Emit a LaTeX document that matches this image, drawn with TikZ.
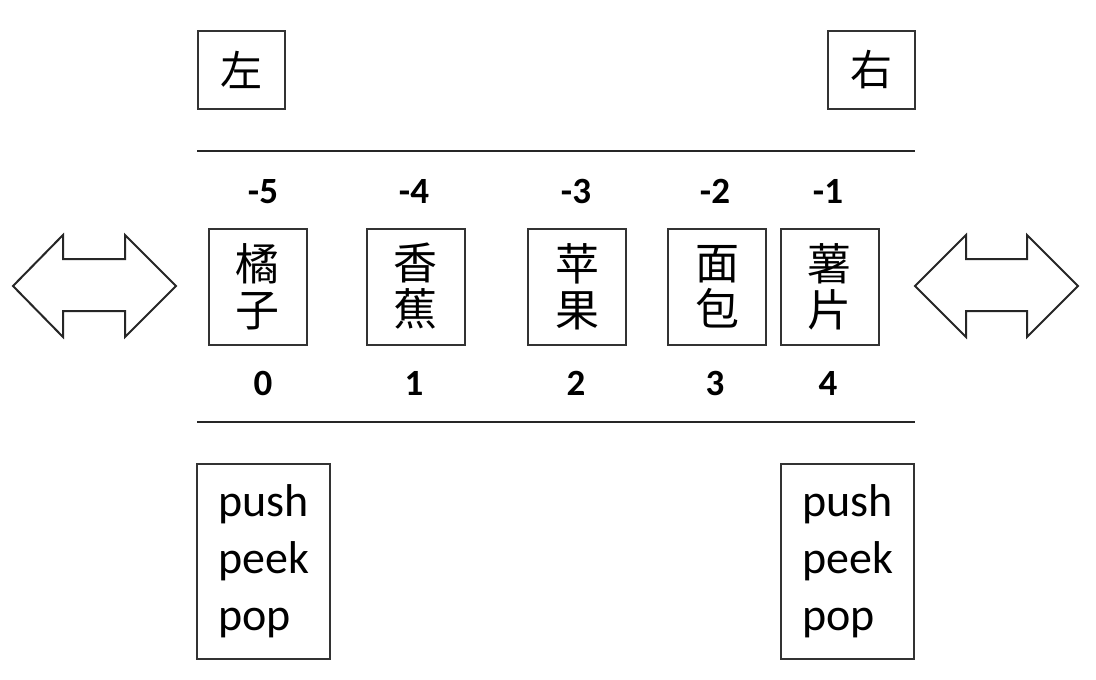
\documentclass[tikz,border=0pt]{standalone}
\usepackage{fontspec}
\setmainfont{Carlito}
\newfontfamily\cjk{Noto Sans CJK SC}
\begin{document}
\begin{tikzpicture}[x=1pt,y=-1pt,
  box/.style={draw=black!80, line width=2pt, inner sep=0pt},
  cell/.style={box, minimum width=98pt, minimum height=116pt, align=center,
    font=\cjk\fontsize{44}{46}\selectfont},
  sidebox/.style={box, minimum width=87pt, minimum height=78pt,
    font=\cjk\fontsize{42}{44}\selectfont},
  opbox/.style={box, minimum width=133pt, minimum height=195pt, align=left,
    font=\fontsize{46}{57}\selectfont},
  idx/.style={anchor=base, font=\bfseries\fontsize{37}{40}\selectfont},
  rule/.style={draw=black!85, line width=1.5pt},
  dbl/.style={draw=black!85, line width=2pt, fill=white, line join=miter}]
\useasboundingbox (0,0) rectangle (1096,680);
\fill[white] (0,0) rectangle (1096,680);

% top labels
\node[sidebox] (left) at (241,69.5) {左};
\node[sidebox] (right) at (871.5,69.5) {右};

% rules
\coordinate (t1) at (197,151); \coordinate (t2) at (915,151);
\coordinate (b1) at (197,422); \coordinate (b2) at (915,422);
\draw[rule] (t1) -- (t2);
\draw[rule] (b1) -- (b2);

% cells
\node[cell] (c0) at (257.5,286.5) {橘\\子};
\node[cell] (c1) at (415.5,286.5) {香\\蕉};
\node[cell] (c2) at (577,286.5) {苹\\果};
\node[cell] (c3) at (717,286.5) {面\\包};
\node[cell] (c4) at (829.5,286.5) {薯\\片};

% negative indices
\node[idx] (n5) at (263,203) {-5};
\node[idx] (n4) at (414,203) {-4};
\node[idx] (n3) at (576,203) {-3};
\node[idx] (n2) at (715,203) {-2};
\node[idx] (n1) at (828,203) {-1};

% positive indices
\node[idx] (p0) at (263,395) {0};
\node[idx] (p1) at (414,395) {1};
\node[idx] (p2) at (576,395) {2};
\node[idx] (p3) at (715,395) {3};
\node[idx] (p4) at (828,395) {4};

% double arrows
\draw[dbl] (13,286) -- (63,235) -- (63,259) -- (125,259) -- (125,235) -- (176,286)
  -- (125,337) -- (125,311) -- (63,311) -- (63,337) -- cycle;
\draw[dbl] (915,286) -- (966,235) -- (966,259) -- (1027,259) -- (1027,235) -- (1078,286)
  -- (1027,337) -- (1027,311) -- (966,311) -- (966,337) -- cycle;

% operation boxes
\node[opbox] (opl) at (263.5,561.5) {push\\peek\\pop};
\node[opbox] (opr) at (847.5,561.5) {push\\peek\\pop};
\end{tikzpicture}
\end{document}
